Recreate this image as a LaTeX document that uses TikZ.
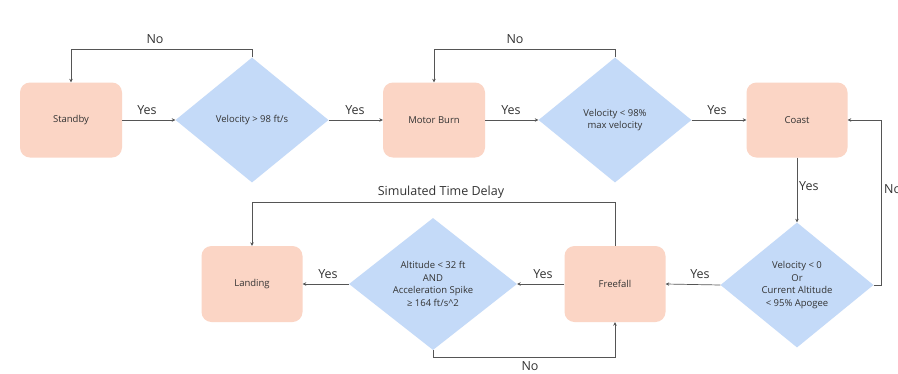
\documentclass[tikz,border=0pt]{standalone}
\usepackage{fontspec}
\setmainfont{Open Sans}
\usetikzlibrary{shapes.geometric,arrows.meta}
\definecolor{boxfill}{HTML}{FBD5C5}
\definecolor{diafill}{HTML}{C4DAF8}
\definecolor{linecol}{HTML}{555555}
\definecolor{txtcol}{HTML}{333333}
\tikzset{
  statebox/.style={rectangle,rounded corners=10pt,fill=boxfill,draw=none,minimum width=102pt,minimum height=75pt,inner sep=0pt,font=\fontsize{9.5}{12}\selectfont,text=txtcol,align=center},
  decision/.style={diamond,fill=diafill,draw=none,minimum width=153pt,minimum height=125pt,inner sep=0pt,font=\fontsize{9.5}{12.5}\selectfont,text=txtcol,align=center},
  conn/.style={draw=linecol,line width=0.7pt,-{Stealth[length=3.5pt,width=3.5pt]}},
  lbl/.style={font=\fontsize{12.5}{14}\selectfont,text=txtcol,inner sep=0pt}
}
\begin{document}
\begin{tikzpicture}[x=1pt,y=-1pt]
\useasboundingbox (0,0) rectangle (898,373);
\fill[white] (0,0) rectangle (898,373);
% nodes
\node[statebox] (standby) at (71,120) {Standby};
\node[decision] (d1) at (252,120) {Velocity > 98 ft/s};
\node[statebox] (burn) at (434,120) {Motor Burn};
\node[decision] (d2) at (615,120) {Velocity < 98\%\\max velocity};
\node[statebox,minimum width=101pt] (coast) at (797,120) {Coast};
\node[decision] (d3) at (797,285) {Velocity < 0\\Or\\Current Altitude\\< 95\% Apogee};
\node[statebox,minimum width=101pt,minimum height=76pt] (freefall) at (615,284) {Freefall};
\node[decision,minimum width=168pt,minimum height=132pt] (d4) at (433,284) {Altitude < 32 ft\\AND\\Acceleration Spike\\≥ 164 ft/s\textasciicircum 2};
\node[statebox,minimum width=101pt,minimum height=76pt] (landing) at (252,284) {Landing};
% connectors
\draw[conn] (standby.east) -- (d1.west);
\draw[conn] (d1.east) -- (burn.west);
\draw[conn] (burn.east) -- (d2.west);
\draw[conn] (d2.east) -- (coast.west);
\draw[conn] (d1.north) -- ++(0,-8) -| (standby.north);
\draw[conn] (d2.north) -- ++(0,-8) -| (burn.north);
\draw[conn] (coast.south) -- (d3.north);
\draw[conn] (d3.east) -- ++(8,0) |- (coast.east);
\draw[conn] (d3.west) -- (freefall.east);
\draw[conn] (freefall.west) -- (d4.east);
\draw[conn] (d4.west) -- (landing.east);
\draw[conn] (d4.south) -- ++(0,7) -| (freefall.south);
\draw[conn] (freefall.north) -- ++(0,-43) -| (landing.north);
% labels
\node[lbl] (l1) at (155,39) {No};
\node[lbl] (l2) at (515,39) {No};
\node[lbl] (l3) at (147,110) {Yes};
\node[lbl] (l4) at (355,110) {Yes};
\node[lbl] (l5) at (511,110) {Yes};
\node[lbl] (l6) at (717,110) {Yes};
\node[lbl,anchor=west] (l7) at (799,186) {Yes};
\node[lbl,anchor=west] (l8) at (884,189) {No};
\node[lbl] (l9) at (700,274) {Yes};
\node[lbl] (l10) at (543,274) {Yes};
\node[lbl] (l11) at (328,274) {Yes};
\node[lbl] (l12) at (530,366.5) {No};
\node[lbl] (l13) at (441,192) {Simulated Time Delay};
\end{tikzpicture}
\end{document}
